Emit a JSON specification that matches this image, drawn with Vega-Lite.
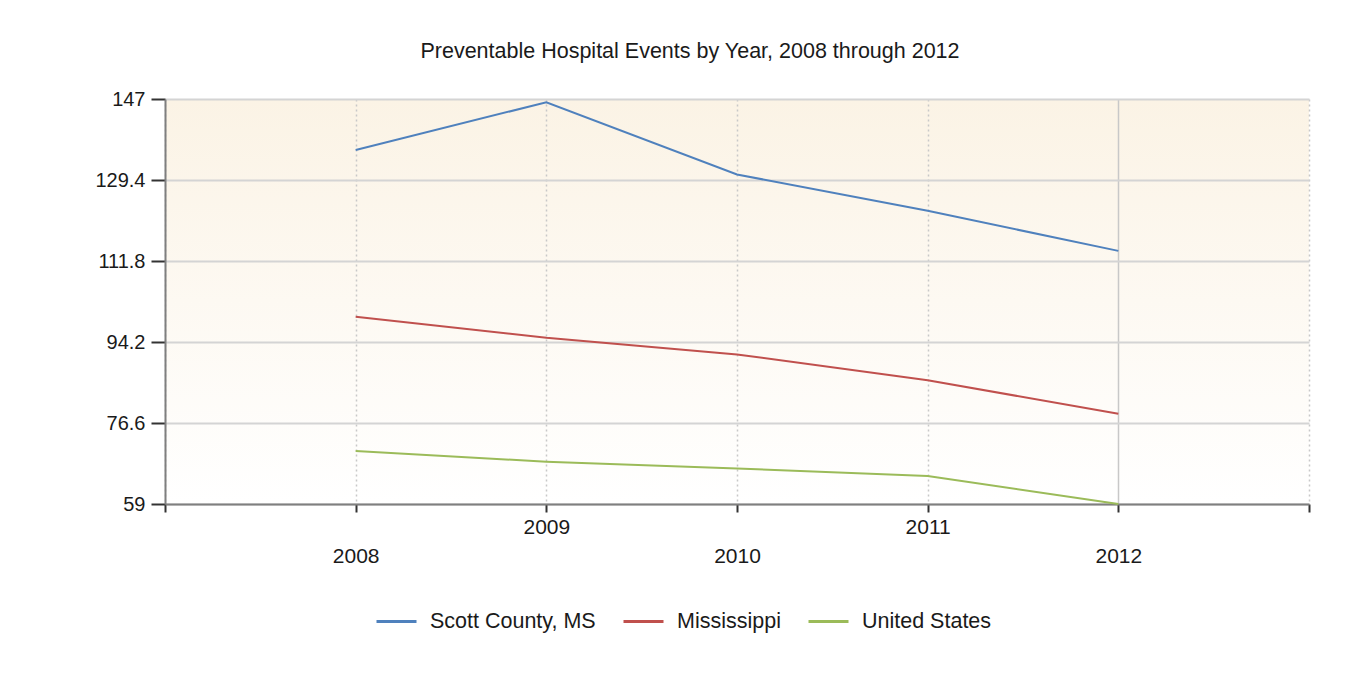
{
  "$schema": "https://vega.github.io/schema/vega-lite/v6.json",
  "width": 1144,
  "height": 405,
  "autosize": {"type": "none"},
  "padding": {"left": 165, "top": 99, "right": 63, "bottom": 169},
  "background": "white",
  "title": {
    "text": "Preventable Hospital Events by Year, 2008 through 2012",
    "font": "Liberation Sans",
    "fontSize": 21.5,
    "fontWeight": "normal",
    "color": "#1a1a1a",
    "anchor": "middle",
    "baseline": "alphabetic",
    "offset": 10,
    "dx": -47
  },
  "config": {
    "font": "Liberation Sans",
    "view": {
      "stroke": null,
      "fill": {
        "gradient": "linear",
        "x1": 0, "y1": 0, "x2": 0, "y2": 1,
        "stops": [
          {"offset": 0, "color": "#FBF3E5"},
          {"offset": 1, "color": "#FFFFFF"}
        ]
      }
    }
  },
  "data": {
    "values": [
      {"year": 2008, "series": "Scott County, MS", "value": 135.9},
      {"year": 2009, "series": "Scott County, MS", "value": 146.3},
      {"year": 2010, "series": "Scott County, MS", "value": 130.6},
      {"year": 2011, "series": "Scott County, MS", "value": 122.7},
      {"year": 2012, "series": "Scott County, MS", "value": 114.0},
      {"year": 2008, "series": "Mississippi", "value": 99.7},
      {"year": 2009, "series": "Mississippi", "value": 95.1},
      {"year": 2010, "series": "Mississippi", "value": 91.5},
      {"year": 2011, "series": "Mississippi", "value": 85.9},
      {"year": 2012, "series": "Mississippi", "value": 78.6},
      {"year": 2008, "series": "United States", "value": 70.5},
      {"year": 2009, "series": "United States", "value": 68.2},
      {"year": 2010, "series": "United States", "value": 66.7},
      {"year": 2011, "series": "United States", "value": 65.1},
      {"year": 2012, "series": "United States", "value": 59.0}
    ]
  },
  "mark": {"type": "line", "strokeWidth": 2, "clip": false},
  "encoding": {
    "x": {
      "field": "year",
      "type": "quantitative",
      "scale": {"domain": [2007, 2013], "nice": false, "zero": false},
      "axis": {
        "title": null,
        "values": [2007, 2008, 2009, 2010, 2011, 2012, 2013],
        "labelExpr": "datum.value == 2007 || datum.value == 2013 ? '' : (datum.value % 2 == 0 ? ['', datum.value + ''] : datum.value + '')",
        "labelFontSize": 21,
        "labelColor": "#1a1a1a",
        "labelLineHeight": 29,
        "labelBaseline": "top",
        "labelPadding": 4,
        "labelFlush": false,
        "labelOverlap": false,
        "tickSize": 8,
        "tickWidth": 2,
        "tickColor": "#333333",
        "domainColor": "#7f7f7f",
        "domainWidth": 2,
        "grid": true,
        "gridColor": "#c8c8c8",
        "gridWidth": 1.5,
        "gridDash": {"condition": {"test": "datum.value == 2012", "value": []}, "value": [2, 3]}
      }
    },
    "y": {
      "field": "value",
      "type": "quantitative",
      "scale": {"domain": [59, 147], "nice": false, "zero": false},
      "axis": {
        "title": null,
        "values": [59, 76.6, 94.2, 111.8, 129.4, 147],
        "format": ".1~f",
        "labelFontSize": 20,
        "labelColor": "#1a1a1a",
        "labelPadding": 6,
        "tickSize": 14,
        "tickWidth": 2,
        "tickColor": "#333333",
        "domainColor": "#7f7f7f",
        "domainWidth": 2,
        "grid": true,
        "gridColor": "#d4d4d4",
        "gridWidth": 2
      }
    },
    "color": {
      "field": "series",
      "type": "nominal",
      "scale": {
        "domain": ["Scott County, MS", "Mississippi", "United States"],
        "range": ["#4F81BD", "#C0504D", "#9BBB59"]
      },
      "legend": {
        "title": null,
        "orient": "none",
        "direction": "horizontal",
        "legendX": 210,
        "legendY": 501,
        "symbolType": "stroke",
        "symbolSize": 1600,
        "symbolStrokeWidth": 3,
        "labelFontSize": 21.5,
        "labelLimit": 400,
        "labelColor": "#1a1a1a",
        "labelOffset": 12,
        "columnPadding": 21
      }
    }
  }
}
